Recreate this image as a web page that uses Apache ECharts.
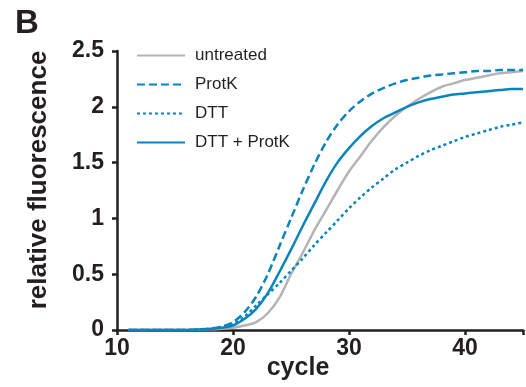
<!DOCTYPE html>
<html><head><meta charset="utf-8">
<script src="https://cdn.jsdelivr.net/npm/echarts@6/dist/echarts.min.js"></script>
<style>html,body{margin:0;padding:0;background:#fff}#c{width:526px;height:387px}</style>
</head><body><div id="c"></div>
<script>
var cycles = [11,12,13,14,15,16,17,18,19,20,21,22,23,24,25,26,27,28,29,30,31,32,33,34,35,36,37,38,39,40,41,42,43,44,45];
var untreated = [0,0,0,0,0,0,0.003,0.006,0.012,0.02,0.04,0.07,0.15,0.29,0.50,0.69,0.89,1.07,1.25,1.42,1.56,1.70,1.82,1.92,2.00,2.07,2.13,2.18,2.21,2.24,2.26,2.28,2.30,2.31,2.32];
var protK = [0,0,0,0,0,0,0.005,0.012,0.03,0.07,0.16,0.30,0.50,0.75,1.00,1.25,1.48,1.68,1.84,1.96,2.05,2.12,2.17,2.21,2.24,2.26,2.28,2.29,2.30,2.31,2.32,2.32,2.33,2.33,2.33];
var dtt = [0,0,0,0,0,0,0.005,0.01,0.025,0.05,0.12,0.22,0.32,0.42,0.53,0.64,0.76,0.87,0.98,1.09,1.19,1.28,1.36,1.44,1.50,1.56,1.61,1.65,1.69,1.73,1.76,1.79,1.82,1.84,1.86];
var dttProtK = [0,0,0,0,0,0,0.004,0.01,0.02,0.04,0.10,0.19,0.33,0.52,0.72,0.93,1.13,1.33,1.50,1.63,1.74,1.83,1.90,1.95,2.00,2.04,2.07,2.09,2.11,2.12,2.13,2.14,2.15,2.16,2.16];
var seriesNames = ['untreated','ProtK','DTT','DTT + ProtK'];
var xTicks = [10,20,30,40];
var yTicks = [0,0.5,1,1.5,2,2.5];

var BLUE = '#0a84bd', GRAY = '#b4b4b8', INK = '#231f20';
function pairs(v){ return cycles.map(function(c,i){return [c,v[i]];}); }
var chart = echarts.init(document.getElementById('c'), null, {renderer:'canvas'});
var font = 'Liberation Sans, Arial, sans-serif';
chart.setOption({
  animation:false,
  textStyle:{fontFamily:font},
  grid:{left:117,right:-7,top:51,bottom:57,containLabel:false},
  legend:{
    orient:'vertical', left:131, top:42, itemWidth:48, itemHeight:14, itemGap:12,
    itemStyle:{opacity:0},
    textStyle:{fontSize:17,color:INK,fontFamily:font,padding:[0,0,0,5]},
    data:seriesNames
  },
  xAxis:{type:'value',min:10,max:45,interval:10,
    axisLine:{lineStyle:{color:INK,width:2.5}},
    axisTick:{length:5,lineStyle:{color:INK,width:2.5}},
    splitLine:{show:false},
    axisLabel:{margin:7,fontSize:23,fontWeight:'bold',color:INK,fontFamily:font,
      formatter:function(v){return xTicks.indexOf(v)>=0?String(v):'';}}
  },
  yAxis:{type:'value',min:0,max:2.5,interval:0.5,
    axisLine:{show:true,lineStyle:{color:INK,width:2.5}},
    axisTick:{show:true,length:5,lineStyle:{color:INK,width:2.5}},
    splitLine:{show:false},
    axisLabel:{margin:13,fontSize:23,fontWeight:'bold',color:INK,fontFamily:font,
      formatter:function(v){return yTicks.indexOf(v)>=0?String(v):'';}}
  },
  graphic:[
    {type:'text',x:27,y:24,style:{text:'B',font:'bold 33px '+font,fill:INK,align:'center',verticalAlign:'middle'}},
    {type:'text',x:298,y:368,style:{text:'cycle',font:'bold 25px '+font,fill:INK,align:'center',verticalAlign:'middle'}},
    {type:'text',x:39,y:180,rotation:Math.PI/2,style:{text:'relative fluorescence',font:'bold 26px '+font,fill:INK,align:'center',verticalAlign:'middle'}}
  ],
  series:[
    {name:seriesNames[0],type:'line',data:pairs(untreated),symbol:'none',smooth:0.3,
      lineStyle:{color:GRAY,width:2.5},itemStyle:{color:GRAY}},
    {name:seriesNames[1],type:'line',data:pairs(protK),symbol:'none',smooth:0.3,
      lineStyle:{color:BLUE,width:2.5,type:[8,4]},itemStyle:{color:BLUE}},
    {name:seriesNames[2],type:'line',data:pairs(dtt),symbol:'none',smooth:0.3,
      lineStyle:{color:BLUE,width:2.5,type:[3,3]},itemStyle:{color:BLUE}},
    {name:seriesNames[3],type:'line',data:pairs(dttProtK),symbol:'none',smooth:0.3,
      lineStyle:{color:BLUE,width:2.5},itemStyle:{color:BLUE}}
  ]
});
</script></body></html>
